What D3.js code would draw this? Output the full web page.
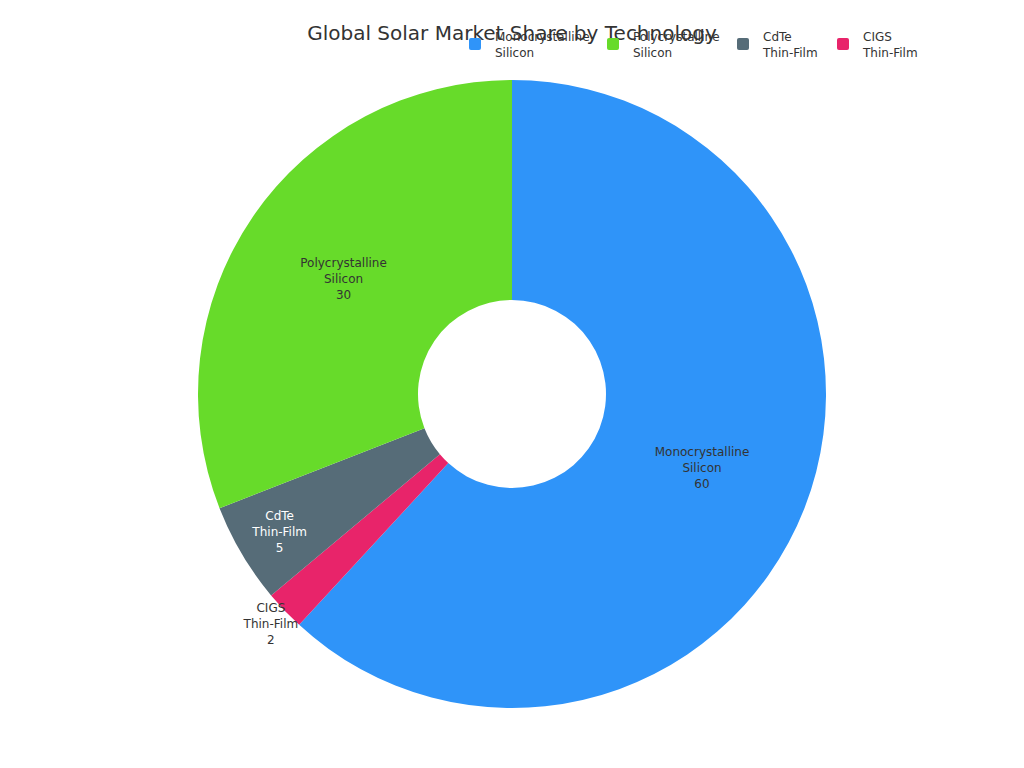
<!DOCTYPE html>
<html><head><meta charset="utf-8">
<script src="https://cdn.jsdelivr.net/npm/d3@7"></script>
<style>body{margin:0;background:#fff;font-family:"DejaVu Sans",sans-serif}</style>
</head><body><svg id="chart" width="1024" height="768"></svg>
<script>
const names = ["Monocrystalline Silicon", "Polycrystalline Silicon", "CdTe Thin-Film", "CIGS Thin-Film"];
const values = [60, 30, 5, 2];
const colors = ["#2f94f9", "#67db2a", "#566c78", "#e8246a"];
// drawing order going clockwise from the top
const drawOrder = [0, 3, 2, 1];

const svg = d3.select("#chart");
const cx = 512, cy = 394, rOuter = 314, rInner = 94;

svg.append("text").attr("x", 512).attr("y", 40).attr("text-anchor", "middle")
  .attr("font-size", 20).attr("fill", "#333").text("Global Solar Market Share by Technology");

const data = drawOrder.map(i => ({ name: names[i], value: values[i], color: colors[i] }));
const pie = d3.pie().sort(null).value(d => d.value);
const arc = d3.arc().innerRadius(rInner).outerRadius(rOuter);
const labelR = v => v < 3 ? 333 : v < 10 ? 270 : 204;

const g = svg.append("g").attr("transform", `translate(${cx},${cy})`);
const arcs = pie(data);
g.selectAll("path").data(arcs).enter().append("path")
  .attr("d", arc).attr("fill", d => d.data.color);

arcs.forEach(d => {
  const outside = d.data.value < 3;
  const r = labelR(d.data.value);
  const [x, y] = d3.arc().innerRadius(r).outerRadius(r).centroid(d);
  const lines = d.data.name.split(" ").concat([String(d.data.value)]);
  const t = g.append("text").attr("text-anchor", "middle").attr("font-size", 12)
    .attr("fill", outside ? "#333" : (d.data.color === "#566c78" ? "#fff" : "#333"));
  lines.forEach((l, i) => t.append("tspan").attr("x", x).attr("y", y + (i - 1) * 16 + 4).text(l));
});

const legX = [469, 607, 737, 837];
names.forEach((n, i) => {
  const lg = svg.append("g");
  lg.append("rect").attr("x", legX[i]).attr("y", 38).attr("width", 12).attr("height", 12)
    .attr("rx", 2).attr("fill", colors[i]);
  const parts = n.split(" ");
  parts.forEach((p, j) => lg.append("text").attr("x", legX[i] + 26).attr("y", 41 + j * 16)
    .attr("font-size", 12).attr("fill", "#333").text(p));
});
</script></body></html>
